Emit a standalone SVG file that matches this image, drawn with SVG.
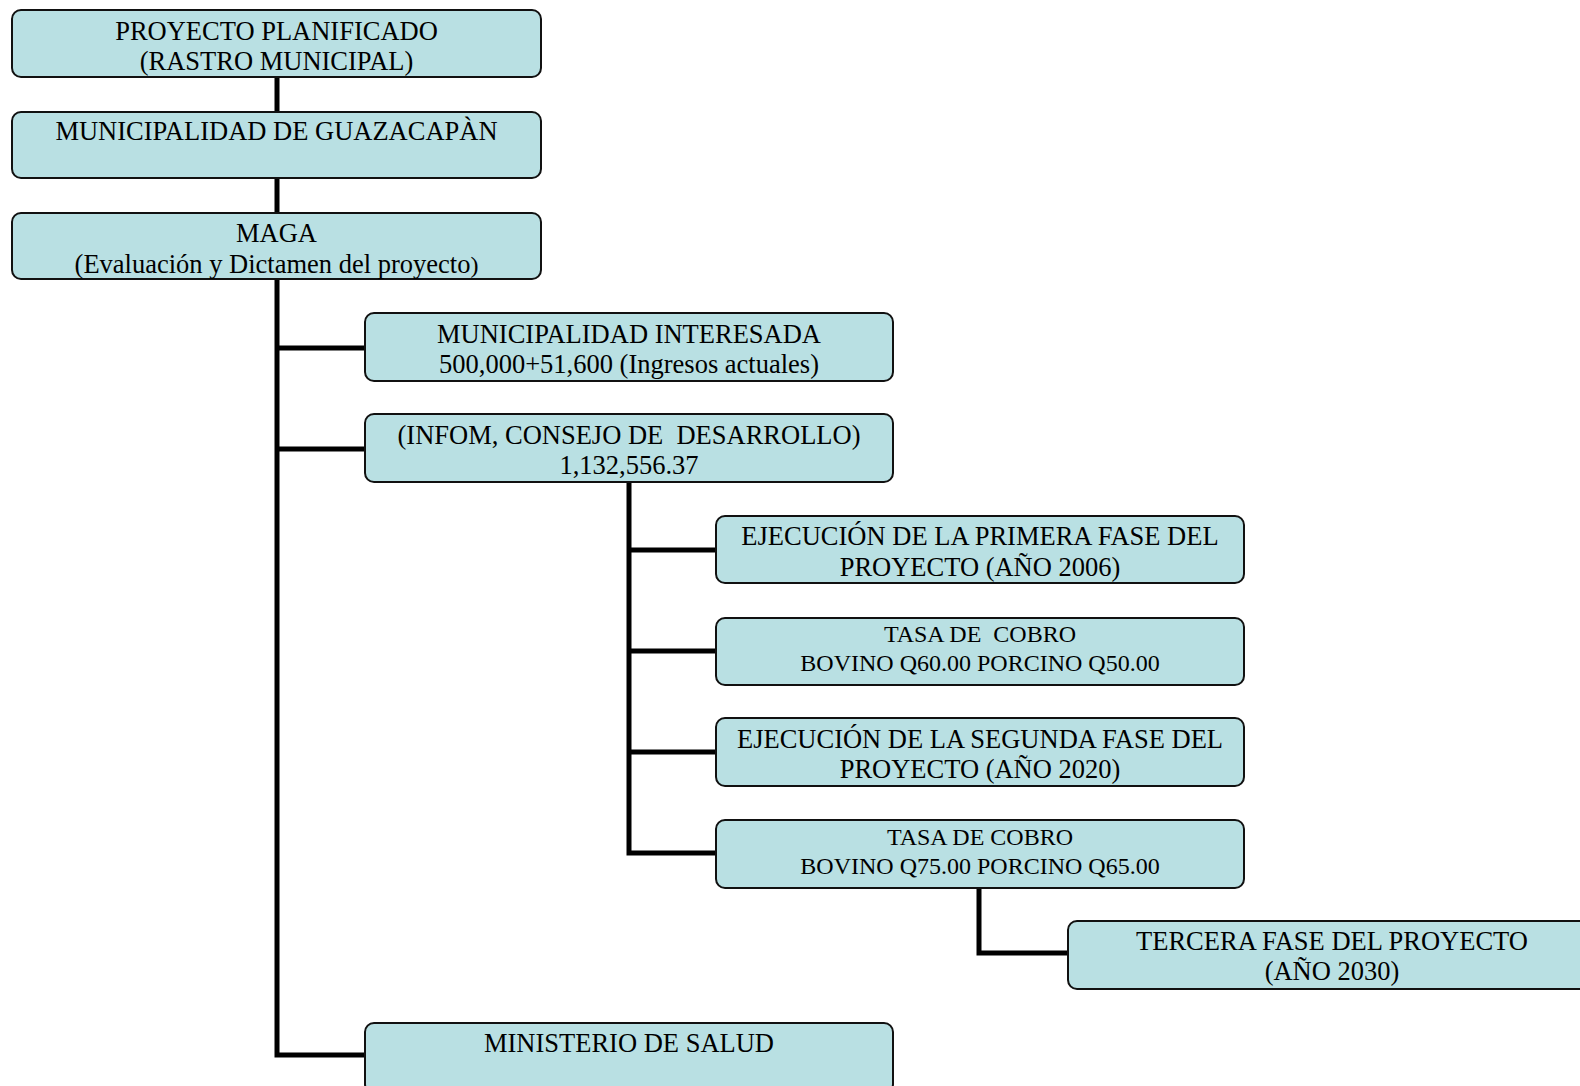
<svg xmlns="http://www.w3.org/2000/svg" width="1580" height="1086" viewBox="0 0 1580 1086">
<style>
.box{fill:#b9e0e3;stroke:#111;stroke-width:2}
.t{font-family:"Liberation Serif","Times New Roman",serif;font-size:26.5px;fill:#000;text-anchor:middle}
.s{font-size:24px}
.c{fill:none;stroke:#000;stroke-width:5}
</style>
<rect width="1580" height="1086" fill="#fff"/>
<g id="connectors">
<path class="c" d="M277 77V112M277 178V213M277 279V1055H365M277 348H365M277 449H365"/>
<path class="c" d="M629 482V853H716M629 550H716M629 651H716M629 752H716"/>
<path class="c" d="M979 888V953H1068"/>
</g>
<g id="n1"><rect class="box" x="12" y="10" width="529" height="67" rx="9"/>
<text class="t" x="276.5" y="39.5">PROYECTO PLANIFICADO</text><text class="t" x="276.5" y="69.5">(RASTRO MUNICIPAL)</text></g>
<g id="n2"><rect class="box" x="12" y="112" width="529" height="66" rx="9"/>
<text class="t" x="276.5" y="140">MUNICIPALIDAD DE GUAZACAPÀN</text></g>
<g id="n3"><rect class="box" x="12" y="213" width="529" height="66" rx="9"/>
<text class="t" x="276.5" y="242">MAGA</text><text class="t" x="276.5" y="273">(Evaluación y Dictamen del proyecto<tspan class="s" font-size="21">)</tspan></text></g>
<g id="n4"><rect class="box" x="365" y="313" width="528" height="68" rx="9"/>
<text class="t" x="629" y="342.5">MUNICIPALIDAD INTERESADA</text><text class="t" x="629" y="373">500,000+51,600 (Ingresos actuales)</text></g>
<g id="n5"><rect class="box" x="365" y="414" width="528" height="68" rx="9"/>
<text class="t" x="629" y="444" xml:space="preserve">(INFOM, CONSEJO DE  DESARROLLO)</text><text class="t" x="629" y="474">1,132,556.37</text></g>
<g id="n6"><rect class="box" x="716" y="516" width="528" height="67" rx="9"/>
<text class="t" x="980" y="545">EJECUCIÓN DE LA PRIMERA FASE DEL</text><text class="t" x="980" y="576">PROYECTO (AÑO 2006)</text></g>
<g id="n7"><rect class="box" x="716" y="618" width="528" height="67" rx="9"/>
<text class="t s" x="980" y="642" xml:space="preserve">TASA DE  COBRO</text><text class="t s" x="980" y="671">BOVINO Q60.00 PORCINO Q50.00</text></g>
<g id="n8"><rect class="box" x="716" y="718" width="528" height="68" rx="9"/>
<text class="t" x="980" y="748">EJECUCIÓN DE LA SEGUNDA FASE DEL</text><text class="t" x="980" y="778">PROYECTO (AÑO 2020)</text></g>
<g id="n9"><rect class="box" x="716" y="820" width="528" height="68" rx="9"/>
<text class="t s" x="980" y="845">TASA DE COBRO</text><text class="t s" x="980" y="874">BOVINO Q75.00 PORCINO Q65.00</text></g>
<g id="n10"><rect class="box" x="1068" y="921" width="528" height="68" rx="9"/>
<text class="t" x="1332" y="950">TERCERA FASE DEL PROYECTO</text><text class="t" x="1332" y="980">(AÑO 2030)</text></g>
<g id="n11"><rect class="box" x="365" y="1023" width="528" height="70" rx="9"/>
<text class="t" x="629" y="1052">MINISTERIO DE SALUD</text></g>
</svg>
